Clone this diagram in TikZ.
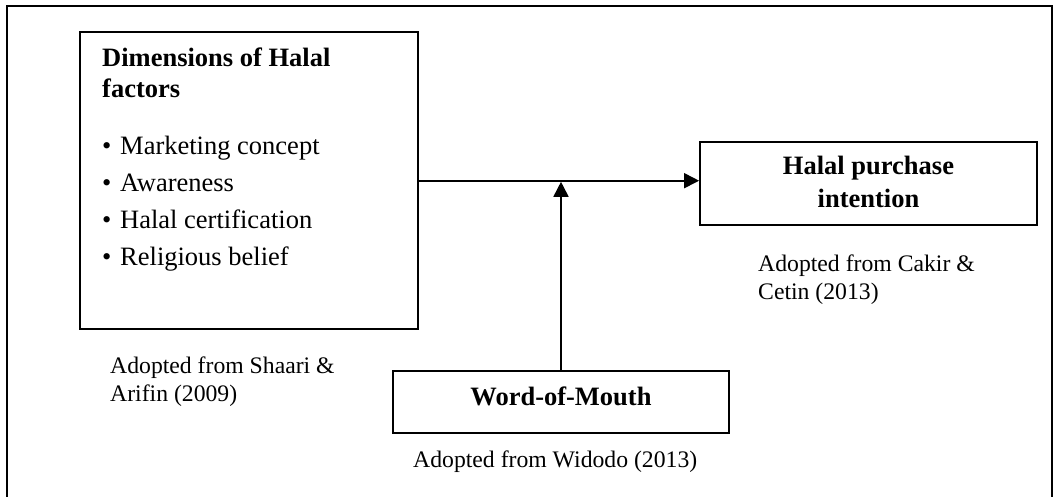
\documentclass[tikz,border=0pt]{standalone}
\usepackage{fontspec}
\setmainfont{Liberation Serif}
\usetikzlibrary{arrows.meta}
\begin{document}
\begin{tikzpicture}[x=1pt,y=-1pt,
  box/.style={draw, line width=1.8pt, inner sep=0pt},
  frame/.style={line width=2pt},
  conn/.style={line width=1.7pt, -{Triangle[length=15pt,width=15pt]}},
  body/.style={font=\fontsize{26.5}{37}\selectfont, inner sep=0pt, anchor=base west},
  title/.style={font=\fontsize{26.5}{31}\selectfont\bfseries, inner sep=0pt, anchor=base west},
  ctitle/.style={font=\fontsize{26.5}{33}\selectfont\bfseries, inner sep=0pt, anchor=base},
  caption/.style={font=\fontsize{23.7}{28}\selectfont, inner sep=0pt, anchor=base west}
]
\useasboundingbox (0,0) rectangle (1053,497);
% outer frame
\draw[frame] (7,498) -- (7,6) -- (1051.5,6) -- (1051.5,498);

% boxes
\node[box, minimum width=338pt, minimum height=297pt] (L) at (249,180.5) {};
\node[box, minimum width=337pt, minimum height=83pt] (H) at (868.5,183.5) {};
\node[box, minimum width=336pt, minimum height=62pt] (W) at (561,402) {};

% texts in left box
\node[title] (Lt1) at (102,67) {Dimensions of Halal};
\node[title] (Lt2) at (102,98) {factors};
\node[body] (Lb1) at (102,155) {\makebox[18pt][l]{•}Marketing concept};
\node[body] (Lb2) at (102,192) {\makebox[18pt][l]{•}Awareness};
\node[body] (Lb3) at (102,229) {\makebox[18pt][l]{•}Halal certification};
\node[body] (Lb4) at (102,266) {\makebox[18pt][l]{•}Religious belief};

% texts in other boxes
\node[ctitle] (Ht1) at (868.5,175) {Halal purchase};
\node[ctitle] (Ht2) at (868.5,208) {intention};
\node[ctitle] (Wt) at (561,405) {Word-of-Mouth};

% captions
\node[caption] (Lc1) at (110,373) {Adopted from Shaari \&};
\node[caption] (Lc2) at (110,401) {Arifin (2009)};
\node[caption] (Hc1) at (758,272) {Adopted from Cakir \&};
\node[caption] (Hc2) at (758,300) {Cetin (2013)};
\node[caption] (Wc) at (413,467) {Adopted from Widodo (2013)};

% connectors
\coordinate (m) at (561,180.7);
\coordinate (j) at (561,181.8);
\draw[conn] (L.east |- m) -- (H.west |- m);
\draw[conn] (W.north) -- (j);
\end{tikzpicture}
\end{document}
